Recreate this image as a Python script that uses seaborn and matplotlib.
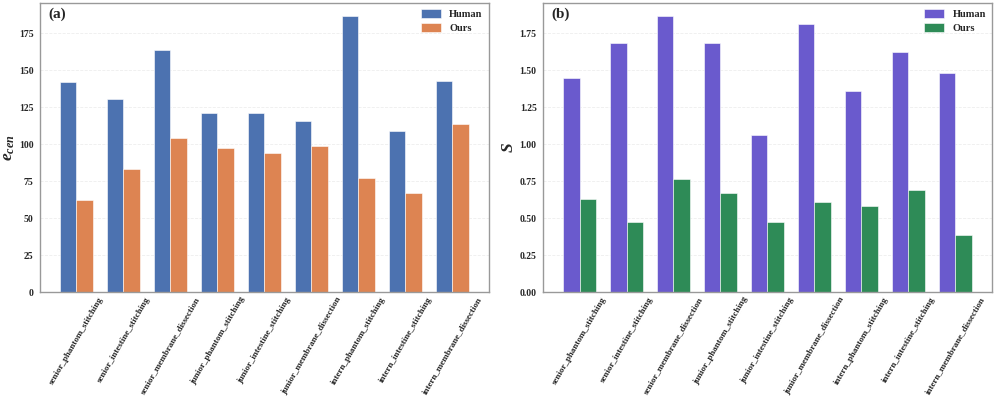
import pandas as pd
import matplotlib
matplotlib.use("Agg")
import matplotlib.pyplot as plt
import seaborn as sns

# data
tasks = ["senior_phantom_stitching", "senior_intestine_stitching", "senior_membrane_dissection",
         "junior_phantom_stitching", "junior_intestine_stitching", "junior_membrane_dissection",
         "intern_phantom_stitching", "intern_intestine_stitching", "intern_membrane_dissection"]
ecen_human = [142, 130.5, 163.5, 121, 121.5, 116, 187, 109, 143]
ecen_ours = [62.5, 83.5, 104, 97.5, 94, 99, 77.5, 67, 114]
s_human = [1.445, 1.685, 1.865, 1.685, 1.065, 1.81, 1.36, 1.625, 1.48]
s_ours = [0.63, 0.475, 0.765, 0.67, 0.475, 0.61, 0.58, 0.69, 0.385]

sns.set_style("white")
plt.rcParams["font.family"] = ["Liberation Serif", "DejaVu Serif"]
plt.rcParams["font.weight"] = "bold"
plt.rcParams["mathtext.fontset"] = "custom"
plt.rcParams["mathtext.it"] = "Liberation Serif:italic:bold"
plt.rcParams["mathtext.rm"] = "Liberation Serif:bold"


def long_df(human, ours):
    return pd.DataFrame({
        "task": tasks * 2,
        "value": human + ours,
        "method": ["Human"] * len(tasks) + ["Ours"] * len(tasks),
    })


fig, axes = plt.subplots(1, 2, figsize=(9.96, 3.99), dpi=100)

panels = [
    (axes[0], long_df(ecen_human, ecen_ours), ["#4C72B0", "#DD8452"], r"$e_{cen}$", "(a)", 195.5, -0.05),
    (axes[1], long_df(s_human, s_ours), ["#6A5ACD", "#2E8B57"], r"$S$", "(b)", 1.953, -0.058),
]

for ax, df, colors, ylab, tag, ytop, labx in panels:
    sns.barplot(data=df, x="task", y="value", hue="method", palette=colors,
                width=0.7, saturation=1, edgecolor="white", linewidth=0.4, ax=ax)
    ax.set_xlim(-0.78, 8.78)
    ax.set_ylim(0, ytop)
    ax.set_xlabel("")
    ax.set_ylabel(ylab, fontsize=12.5)
    ax.yaxis.set_label_coords(labx, 0.5)
    ax.set_xticks(range(len(tasks)))
    ax.set_xticklabels(tasks, rotation=60, ha="center", fontsize=6.5, fontweight="bold")
    for lab in ax.get_yticklabels():
        lab.set_fontsize(7)
        lab.set_fontweight("bold")
    ax.tick_params(axis="y", length=3, width=0.6, color="#888888", pad=1.5)
    ax.tick_params(axis="x", length=2, width=0.6, color="#888888", pad=0.5)
    ax.yaxis.grid(True, color="#eeeeee", linewidth=0.6, linestyle="--")
    ax.set_axisbelow(True)
    for sp in ax.spines.values():
        sp.set_color("#999999")
        sp.set_linewidth(1.0)
    ax.text(0.018, 0.985, tag, transform=ax.transAxes, fontsize=11, fontweight="bold", va="top")
    ax.legend(frameon=False, loc="upper right", prop={"weight": "bold", "size": 7.5},
              handlelength=1.9, handleheight=0.9, labelspacing=0.35, borderaxespad=0.2)

plt.subplots_adjust(left=0.04, right=0.996, top=0.992, bottom=0.268, wspace=0.12)
plt.savefig("out.png", dpi=100)
